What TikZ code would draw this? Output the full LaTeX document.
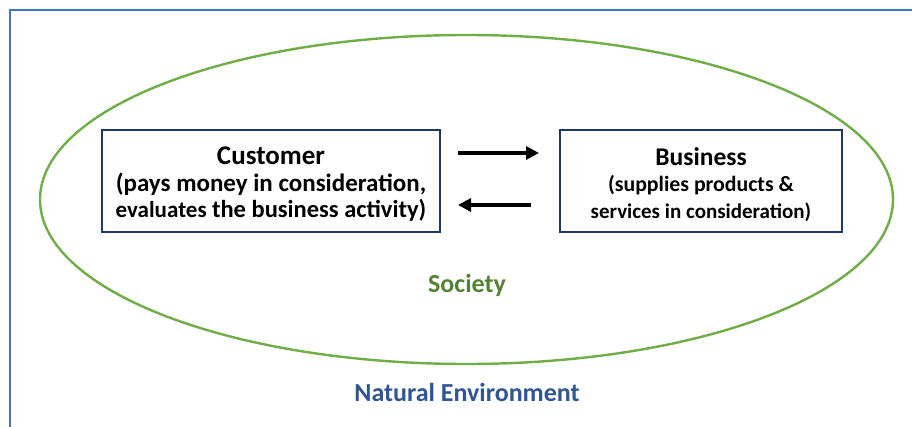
\documentclass[tikz,border=0pt]{standalone}
\usepackage{fontspec}
\setmainfont{Carlito}
\usetikzlibrary{arrows.meta}
\definecolor{frameblue}{HTML}{4472C4}
\definecolor{envblue}{HTML}{2F5597}
\definecolor{socgreen}{HTML}{70AD47}
\definecolor{soctext}{HTML}{548235}
\definecolor{boxnavy}{HTML}{1F3864}
\newcommand{\fs}[1]{\fontsize{#1}{26.5}\selectfont}
\tikzset{
  party/.style={draw=boxnavy, line width=2.2pt, inner sep=0pt, minimum height=102pt},
  partytext/.style={align=center, inner sep=0pt, anchor=north, font=\bfseries\fs{24}},
  flow/.style={line width=3.2pt, -{Triangle[length=13pt,width=13pt]}},
  label/.style={anchor=base, inner sep=0pt, font=\fontsize{26}{30}\selectfont\bfseries}
}
\begin{document}
\begin{tikzpicture}[x=1pt,y=-1pt]
  \useasboundingbox (0,0) rectangle (912,427);
  \clip (0,0) rectangle (912,427);
  \fill[white] (0,0) rectangle (912,427);
  % natural environment frame, running off the page at right and bottom
  \draw[frameblue, line width=2.8pt] (10,10) rectangle (940,460);
  % society
  \draw[socgreen, line width=2.4pt] (466.5,199.5) ellipse [x radius=426.5, y radius=164.5];
  \node[label, text=soctext] (soc) at (467,293) {Society};
  \node[label, text=envblue] (env) at (467,401.5) {Natural Environment};
  % the two parties
  \node[party, minimum width=338pt] (cust) at (271,181) {};
  \node[party, minimum width=282pt] (bus) at (701,181) {};
  \node[partytext] (custtext) at (271,147)
    {{\fs{27}Customer}\\{\fs{25}(pays money in consideration,}\\{\fs{23}evaluates} {\fs{24.5}the business activity)}};
  \node[partytext] (bustext) at (701,147)
    {{\fs{25.5}Business}\\{\fs{21.8}(supplies products \&}\\{\fs{21}services in consideration)}};
  % exchange arrows
  \coordinate (a1) at (458,153);
  \coordinate (a2) at (539,153);
  \coordinate (b1) at (531,205);
  \coordinate (b2) at (458,205);
  \draw[flow] (a1) -- (a2);
  \draw[flow] (b1) -- (b2);
\end{tikzpicture}
\end{document}
